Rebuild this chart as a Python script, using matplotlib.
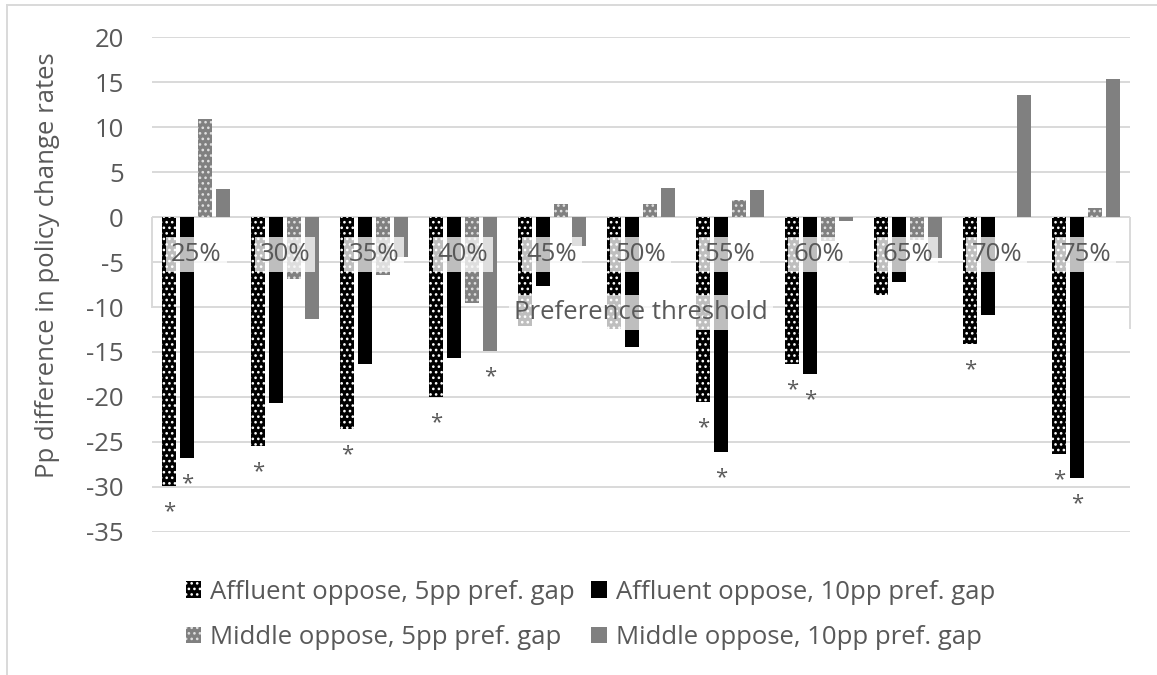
import numpy as np
import matplotlib
matplotlib.use('Agg')
import matplotlib.pyplot as plt
from matplotlib.patches import Patch
from matplotlib.lines import Line2D

# categories and series values (pp difference in policy change rates)
thresholds = ['25%', '30%', '35%', '40%', '45%', '50%', '55%', '60%', '65%', '70%', '75%']
affluent_5pp = [-29.9, -25.4, -23.6, -20.0, -12.1, -12.4, -20.6, -16.3, -8.7, -14.1, -26.3]
affluent_10pp = [-26.8, -20.7, -16.3, -15.7, -7.7, -14.5, -26.1, -17.5, -7.2, -10.9, -29.0]
middle_5pp = [10.9, -6.9, -6.4, -9.6, 1.4, 1.4, 1.9, -2.7, -2.5, 0.0, 1.0]
middle_10pp = [3.1, -11.3, -4.4, -14.9, -3.2, 3.2, 3.0, -0.4, -4.5, 13.6, 15.3]

# significance flags (drawn as asterisks under the bar)
sig_affluent_5pp = [True, True, True, True, False, False, True, True, False, True, True]
sig_affluent_10pp = [True, False, False, False, False, False, True, True, False, False, True]
sig_middle_5pp = [False] * 11
sig_middle_10pp = [False, False, False, True, False, False, False, False, False, False, False]

labels = ['Affluent oppose, 5pp pref. gap', 'Affluent oppose, 10pp pref. gap',
          'Middle oppose, 5pp pref. gap', 'Middle oppose, 10pp pref. gap']

plt.rcParams['font.family'] = ['Open Sans', 'DejaVu Sans']
plt.rcParams['hatch.linewidth'] = 1.1
plt.rcParams['axes.unicode_minus'] = False

txt = '#595959'
grid = '#d9d9d9'
fs = 18.5

fig = plt.figure(figsize=(11.57, 6.75), dpi=100)
ax = fig.add_axes([0.131, 0.212, 0.846, 0.733])

x = np.arange(len(thresholds))
step = 0.2025
width = 0.157
series = [
    (affluent_5pp, sig_affluent_5pp, dict(facecolor='black', edgecolor='white', hatch='...')),
    (affluent_10pp, sig_affluent_10pp, dict(facecolor='black', edgecolor='black')),
    (middle_5pp, sig_middle_5pp, dict(facecolor='#808080', edgecolor='#e0e0e0', hatch='...')),
    (middle_10pp, sig_middle_10pp, dict(facecolor='#808080', edgecolor='#808080')),
]

handles = []
for k, (vals, sig, style) in enumerate(series):
    pos = x + (k - 1.5) * step
    ax.bar(pos, vals, width, linewidth=0, zorder=2, **style)
    handles.append(Patch(linewidth=0, label=labels[k], **style))
    for p, v, s in zip(pos, vals, sig):
        if s:
            ax.annotate('*', (p, v), xytext=(0, -18.5), textcoords='offset points',
                        ha='center', va='center', fontsize=16, color=txt, zorder=4)

ax.set_xlim(-0.5, 10.5)
ax.set_ylim(-35, 20)
ax.set_yticks(np.arange(-35, 21, 5))
ax.set_xticks([])
ax.tick_params(axis='y', length=0, pad=20, labelsize=fs, labelcolor=txt)
ax.grid(axis='y', color=grid, linewidth=1.4, zorder=0)
ax.set_axisbelow(True)
for sp in ax.spines.values():
    sp.set_visible(False)

# horizontal axis at zero with its side lines
ax.axhline(0, color=grid, linewidth=1.4, zorder=1)
ax.vlines(-0.5, -10.1, 0, color=grid, linewidth=1.4, zorder=1, clip_on=False)
ax.vlines(10.5, -12.5, 0, color=grid, linewidth=1.4, zorder=1, clip_on=False)

# category labels sit on a translucent white box over the bars
box = dict(boxstyle='square,pad=0.2', facecolor='white', alpha=0.75, linewidth=0)
for xi, lab in zip(x, thresholds):
    ax.text(xi, -4.2, lab, ha='center', va='center', fontsize=fs, color=txt, zorder=3, bbox=box)
ax.text(5, -10.6, 'Preference threshold', ha='center', va='center', fontsize=fs, color=txt,
        zorder=3, bbox=box)

ax.set_ylabel('Pp difference in policy change rates', fontsize=fs, color=txt)
ax.yaxis.set_label_coords(-0.094, 0.539)

order = [0, 2, 1, 3]
fig.legend([handles[i] for i in order], [labels[i] for i in order], ncol=2,
           loc='upper left', bbox_to_anchor=(0.145, 0.168), frameon=False, fontsize=fs,
           labelcolor=txt, handlelength=0.6, handleheight=0.6, handletextpad=0.35,
           columnspacing=0.65, labelspacing=0.8, borderpad=0.2)

# chart area border (left and top)
fig.add_artist(Line2D([0.006, 0.006], [0.0, 0.993], color=grid, linewidth=1.4))
fig.add_artist(Line2D([0.006, 1.0], [0.993, 0.993], color=grid, linewidth=1.4))

fig.savefig('out.png', dpi=100)
